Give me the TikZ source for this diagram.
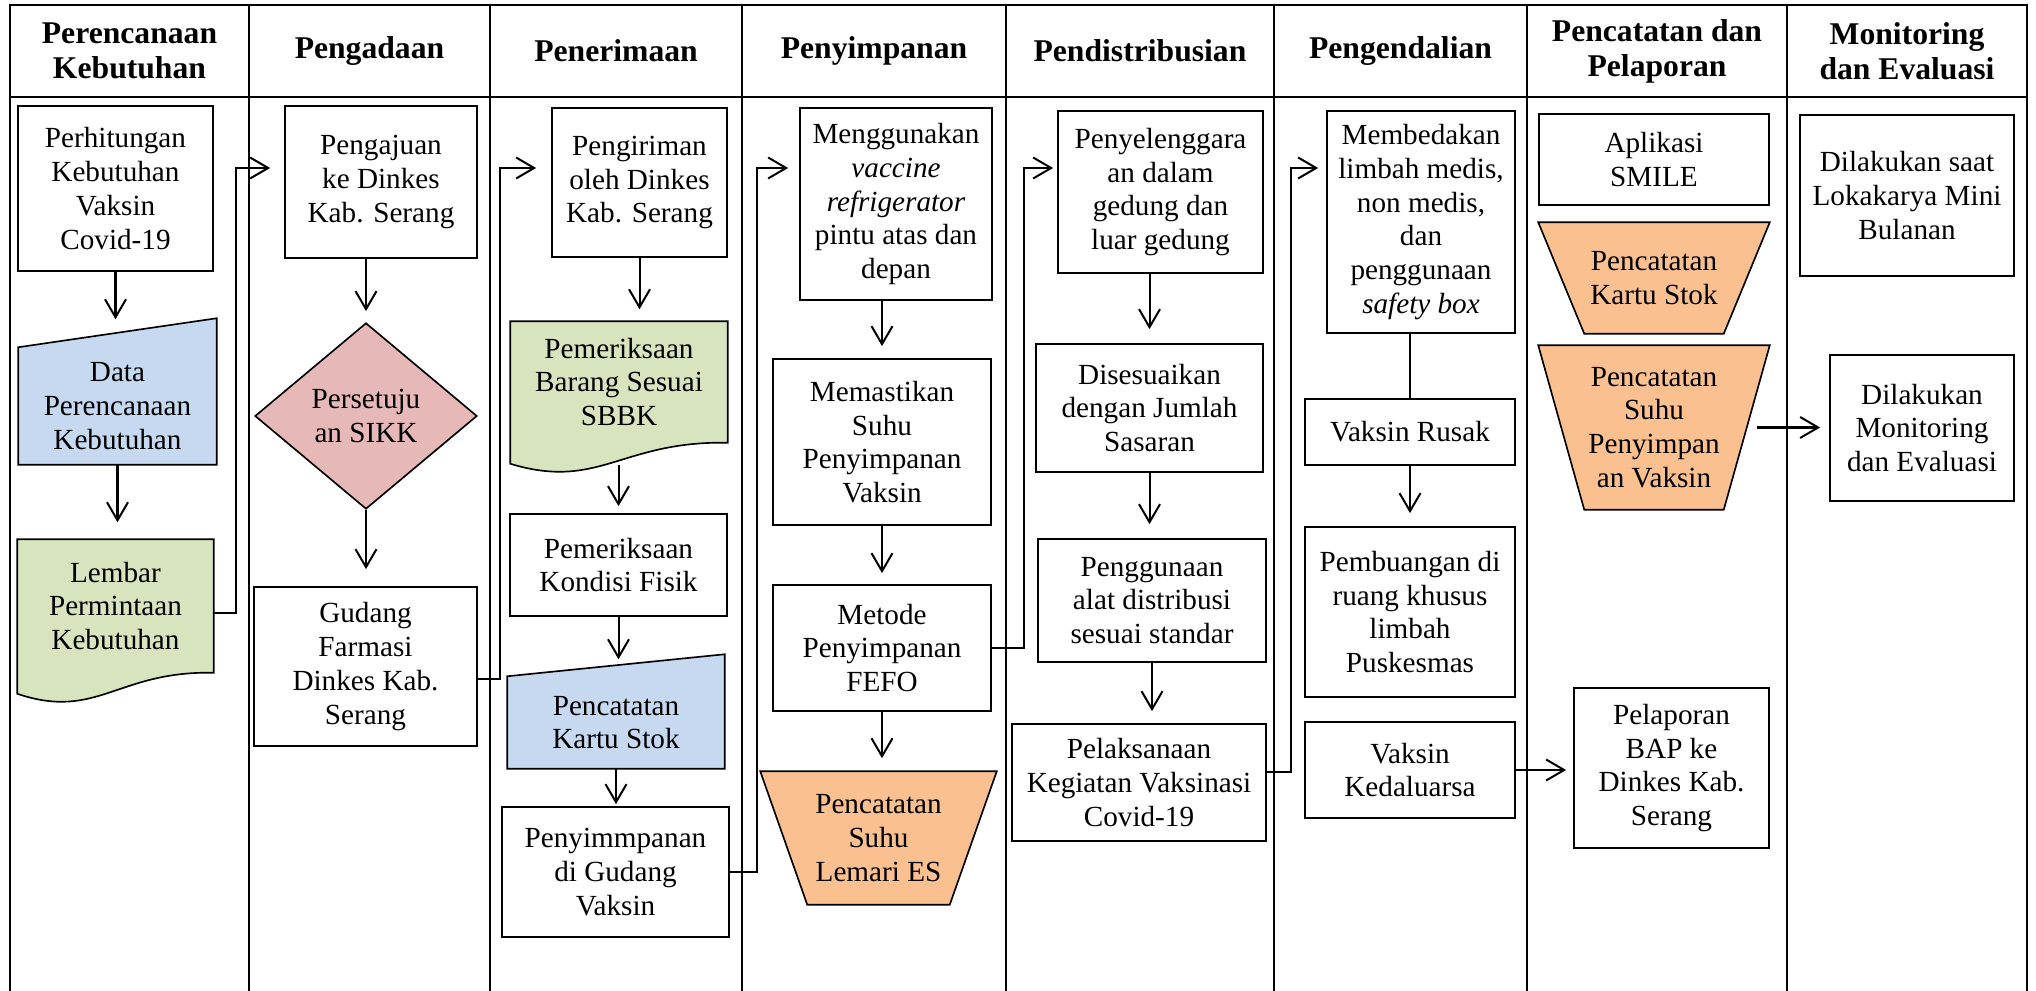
\documentclass[tikz,border=0pt]{standalone}
\usepackage{fontspec}
\setmainfont{Liberation Serif}
\usetikzlibrary{shapes.geometric,arrows.meta,backgrounds}

\definecolor{biru}{HTML}{C6D9F1}
\definecolor{hijau}{HTML}{D7E4BD}
\definecolor{merah}{HTML}{E6B9B8}
\definecolor{oranye}{HTML}{FAC090}

\begin{document}
\begin{tikzpicture}[x=0.01cm,y=-0.01cm,>={Straight Barb[length=1.8mm,width=2.1mm]},
      font=\fontsize{8.3}{9.6}\selectfont,
      lajur/.style={line width=0.66pt},
      kotak/.style={rectangle,draw,line width=0.47pt,align=center,inner sep=2pt},
      teks/.style={rectangle,align=center,inner sep=2pt},
      bentuk/.style={draw,line width=0.47pt},
      judul/.style={align=center,font=\bfseries\fontsize{9}{10}\selectfont},
      alur/.style={->,line width=0.57pt}]
      \useasboundingbox (0,0) rectangle (2036,991);
      \coordinate (atas) at (0,168);

      \draw[lajur] (10,1000) -- (10,5) -- (2027,5) -- (2027,1000);
      \draw[lajur] (10,97) -- (2027,97);
      \draw[lajur] (249,5) -- (249,1000) (490,5) -- (490,1000)
        (742,5) -- (742,1000) (1006,5) -- (1006,1000) (1274,5) -- (1274,1000)
        (1527,5) -- (1527,1000) (1787,5) -- (1787,1000);

      \node[judul] (hrenc) at (129.5,51) {Perencanaan\\Kebutuhan};
      \node[judul] (hada) at (369.5,51) {Pengadaan};
      \node[judul] (hterima) at (616,51) {Penerimaan};
      \node[judul] (hsimpan) at (874,51) {Penyimpanan};
      \node[judul] (hdistri) at (1140,51) {Pendistribusian};
      \node[judul] (hkendali) at (1400.5,51) {Pengendalian};
      \node[judul] (hcatat) at (1657,51) {Pencatatan dan\\Pelaporan};
      \node[judul] (hmonev) at (1907,51) {Monitoring\\dan Evaluasi};

      \node[kotak,minimum width=1.95cm,minimum height=1.65cm] (hitung) at (115.5,188.5)
      {Perhitungan\\Kebutuhan\\Vaksin\\Covid-19};
      \node[teks,minimum width=1.97cm,minimum height=1.16cm] (dataplan) at (117.5,406)
      {Data\\Perencanaan\\Kebutuhan};
      \node[teks,minimum width=1.95cm,minimum height=1.32cm] (lembar) at (115.5,606)
      {Lembar\\Permintaan\\Kebutuhan};

      \node[kotak,minimum width=1.92cm,minimum height=1.52cm] (pengajuan) at (381,182)
      {Pengajuan\\ke Dinkes\\Kab. Serang};
      \node[diamond,draw,fill=merah,line width=0.47pt,align=center,inner sep=1pt,
        minimum width=2.22cm,minimum height=1.86cm] (sikk) at (366,416) {Persetuju\\an SIKK};
      \node[kotak,minimum width=2.23cm,minimum height=1.59cm] (gudang) at (365.5,666.5)
      {Gudang\\Farmasi\\Dinkes Kab.\\Serang};

      \node[kotak,minimum width=1.75cm,minimum height=1.49cm] (pengiriman) at (639.5,182.5)
      {Pengiriman\\oleh Dinkes\\Kab. Serang};
      \node[teks,minimum width=2.16cm,minimum height=1.20cm] (barang) at (619,382)
      {Pemeriksaan\\Barang Sesuai\\SBBK};
      \node[kotak,minimum width=2.17cm,minimum height=1.02cm] (kondisi) at (618.5,565)
      {Pemeriksaan\\Kondisi Fisik};
      \node[teks,minimum width=2.16cm,minimum height=0.91cm] (kartu) at (616,722.5)
      {Pencatatan\\Kartu Stok};
      \node[kotak,minimum width=2.27cm,minimum height=1.30cm] (simpangudang) at (615.5,872)
      {Penyimmpanan\\di Gudang\\Vaksin};

      \node[kotak,minimum width=1.92cm,minimum height=1.92cm] (kulkas) at (896,204)
      {Menggunakan\\\textit{vaccine}\\\textit{refrigerator}\\pintu atas dan\\depan};
      \node[kotak,minimum width=2.18cm,minimum height=1.66cm] (suhu) at (882,442)
      {Memastikan\\Suhu\\Penyimpanan\\Vaksin};
      \node[kotak,minimum width=2.18cm,minimum height=1.26cm] (fefo) at (882,648)
      {Metode\\Penyimpanan\\FEFO};
      \node[teks,minimum width=2.35cm,minimum height=1.32cm] (lemari) at (878.5,838)
      {Pencatatan\\Suhu\\Lemari ES};

      \node[kotak,minimum width=2.05cm,minimum height=1.62cm] (distribusi) at (1160.5,192)
      {Penyelenggara\\an dalam\\gedung dan\\luar gedung};
      \node[kotak,minimum width=2.27cm,minimum height=1.28cm] (sasaran) at (1149.5,408)
      {Disesuaikan\\dengan Jumlah\\Sasaran};
      \node[kotak,minimum width=2.28cm,minimum height=1.23cm] (alat) at (1152,600.5)
      {Penggunaan\\alat distribusi\\sesuai standar};
      \node[kotak,minimum width=2.54cm,minimum height=1.17cm] (vaksinasi) at (1139,782.5)
      {Pelaksanaan\\Kegiatan Vaksinasi\\Covid-19};

      \node[kotak,minimum width=1.88cm,minimum height=2.22cm] (limbah) at (1421,222)
      {Membedakan\\limbah medis,\\non medis,\\dan\\penggunaan\\\textit{safety box}};
      \node[kotak,minimum width=2.10cm,minimum height=0.66cm] (rusak) at (1410,432) {Vaksin Rusak};
      \node[kotak,minimum width=2.10cm,minimum height=1.70cm] (buang) at (1410,612)
      {Pembuangan di\\ruang khusus\\limbah\\Puskesmas};
      \node[kotak,minimum width=2.10cm,minimum height=0.96cm] (kedaluarsa) at (1410,770)
      {Vaksin\\Kedaluarsa};

      \node[kotak,minimum width=2.30cm,minimum height=0.91cm] (smile) at (1654,159.5)
      {Aplikasi\\SMILE};
      \node[teks,minimum width=2.30cm,minimum height=1.10cm] (kartustok) at (1654,278)
      {Pencatatan\\Kartu Stok};
      \node[teks,minimum width=2.30cm,minimum height=1.63cm] (suhuvaksin) at (1654,427.5)
      {Pencatatan\\Suhu\\Penyimpan\\an Vaksin};
      \node[kotak,minimum width=1.95cm,minimum height=1.60cm] (bap) at (1671.5,768)
      {Pelaporan\\BAP ke\\Dinkes Kab.\\Serang};

      \node[kotak,minimum width=2.14cm,minimum height=1.61cm] (lokakarya) at (1907,195.5)
      {Dilakukan saat\\Lokakarya Mini\\Bulanan};
      \node[kotak,minimum width=1.84cm,minimum height=1.46cm] (monev) at (1922,428)
      {Dilakukan\\Monitoring\\dan Evaluasi};

      \begin{scope}[on background layer]
        \draw[bentuk,fill=biru] (dataplan.south west) -- (dataplan.south east)
          -- ([yshift=0.29cm]dataplan.north east) -- (dataplan.north west) -- cycle;
        \draw[bentuk,fill=biru] (kartu.south west) -- (kartu.south east)
          -- ([yshift=0.22cm]kartu.north east) -- (kartu.north west) -- cycle;
        \draw[bentuk,fill=hijau] (lembar.north west) -- (lembar.north east) -- (lembar.south east)
          .. controls +(-97,-2) and +(80,27) .. ([yshift=-0.21cm]lembar.south west) -- cycle;
        \draw[bentuk,fill=hijau] (barang.north west) -- (barang.north east) -- (barang.south east)
          .. controls +(-107,-2) and +(89,27) .. ([yshift=-0.21cm]barang.south west) -- cycle;
        \draw[bentuk,fill=oranye] (lemari.north west) -- (lemari.north east)
          -- ([xshift=-0.47cm]lemari.south east) -- ([xshift=0.47cm]lemari.south west) -- cycle;
        \draw[bentuk,fill=oranye] (kartustok.north west) -- (kartustok.north east)
          -- ([xshift=-0.46cm]kartustok.south east) -- ([xshift=0.46cm]kartustok.south west) -- cycle;
        \draw[bentuk,fill=oranye] (suhuvaksin.north west) -- (suhuvaksin.north east)
          -- ([xshift=-0.46cm]suhuvaksin.south east) -- ([xshift=0.46cm]suhuvaksin.south west) -- cycle;
      \end{scope}

      \draw[alur,shorten >=0.28cm] (hitung) -- (hitung |- dataplan.north);
      \draw[alur,shorten >=0.17cm] (dataplan) -- (dataplan |- lembar.north);
      \draw[alur,shorten >=0.14cm] ([yshift=-0.07cm]lembar.east) -- ++(22,0) |- (pengajuan.west |- atas);
      \draw[alur,shorten >=0.11cm] (sikk |- pengajuan.south) -- (sikk);
      \draw[alur,shorten >=0.17cm] (sikk) -- (sikk |- gudang.north);
      \draw[alur,shorten >=0.15cm] ([yshift=-0.125cm]gudang.east) -- ++(22,0) |- (pengiriman.west |- atas);
      \draw[alur,shorten >=0.12cm] (pengiriman) -- (pengiriman |- barang.north);
      \draw[alur,shorten <=0.22cm,shorten >=0.07cm] (kondisi |- barang.south) -- (kondisi);
      \draw[alur,shorten >=0.17cm] (kondisi) -- (kondisi |- kartu.north);
      \draw[alur,shorten >=0.02cm] (kartu) -- (kartu |- simpangudang.north);
      \draw[alur,shorten >=0.11cm] (simpangudang.east) -- ++(27,0) |- (kulkas.west |- atas);
      \draw[alur,shorten >=0.12cm] (suhu |- kulkas.south) -- (suhu);
      \draw[alur,shorten >=0.11cm] (suhu) -- (fefo);
      \draw[alur,shorten >=0.13cm] (fefo) -- (fefo |- lemari.north);
      \draw[alur,shorten >=0.04cm] (fefo.east) -- ++(32,0) |- (distribusi.west |- atas);
      \draw[alur,shorten >=0.14cm] (sasaran |- distribusi.south) -- (sasaran);
      \draw[alur,shorten >=0.14cm] (sasaran) -- (sasaran |- alat.north);
      \draw[alur,shorten >=0.12cm] (alat) -- (alat |- vaksinasi.north);
      \draw[alur,shorten >=0.08cm] ([yshift=0.105cm]vaksinasi.east) -- ++(24,0) |- (limbah.west |- atas);
      \draw[line width=0.57pt] (rusak |- limbah.south) -- (rusak);
      \draw[alur,shorten >=0.13cm] (rusak) -- (buang);
      \draw[alur,shorten >=0.07cm] (kedaluarsa) -- (kedaluarsa -| bap.west);
      \draw[alur,shorten <=-0.13cm,shorten >=0.09cm] (suhuvaksin) -- (suhuvaksin -| monev.west);
    \end{tikzpicture}
\end{document}
